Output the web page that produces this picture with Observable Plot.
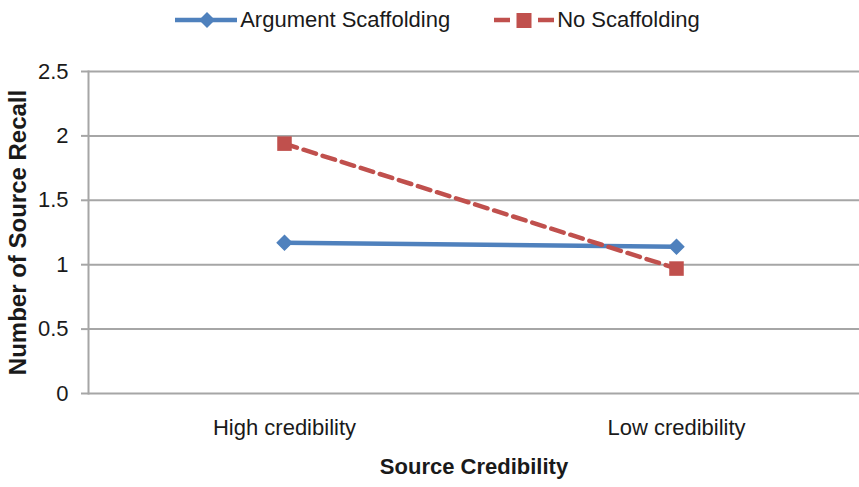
<!DOCTYPE html>
<html><head><meta charset="utf-8">
<script src="https://cdn.jsdelivr.net/npm/d3@7"></script>
<script src="https://cdn.jsdelivr.net/npm/@observablehq/plot@0.6"></script>
<style>
body{margin:0;background:#fff;}
#legend{height:40px;display:flex;align-items:center;justify-content:center;font-family:'Liberation Sans',Arial,sans-serif;font-size:22px;color:#1a1a1a;padding-left:16px;box-sizing:border-box;}
.item{display:flex;align-items:center;}
.item svg{margin-right:3px;}
.gap{width:44px;}
#chart g[aria-label="y-axis label"] text{font-weight:bold;font-size:24px;}
#chart g[aria-label="x-axis label"] text{font-weight:bold;font-size:22px;}
</style>
</head><body>
<div id="legend"></div>
<div id="chart"></div>
<script>
const categories = ["High credibility", "Low credibility"];
const seriesNames = ["Argument Scaffolding", "No Scaffolding"];
const argumentValues = [1.17, 1.14];
const noScaffoldingValues = [1.94, 0.97];
const yTicks = [0, 0.5, 1, 1.5, 2, 2.5];
const xTitle = "Source Credibility";
const yTitle = "Number of Source Recall";

const blue = "#4F81BD", red = "#C0504D", grid = "#a6a6a6";
const argRows = categories.map((c, i) => ({category: c, value: argumentValues[i], series: seriesNames[0]}));
const noRows = categories.map((c, i) => ({category: c, value: noScaffoldingValues[i], series: seriesNames[1]}));

// legend
const legend = document.getElementById("legend");
legend.innerHTML =
  `<div class="item"><svg width="62" height="20"><line x1="0" y1="10" x2="62" y2="10" stroke="${blue}" stroke-width="4.5"/><path d="M32,2L40,10L32,18L24,10Z" fill="${blue}"/></svg><span>${seriesNames[0]}</span></div>` +
  `<div class="gap"></div>` +
  `<div class="item"><svg width="60" height="20"><line x1="0" y1="10" x2="60" y2="10" stroke="${red}" stroke-width="4.5" stroke-dasharray="16,28"/><rect x="22.5" y="3" width="15" height="15" fill="${red}"/></svg><span>${seriesNames[1]}</span></div>`;

const chart = Plot.plot({
  width: 859,
  height: 447,
  marginTop: 31,
  marginBottom: 94,
  marginLeft: 88,
  marginRight: 0,
  style: {fontFamily: "'Liberation Sans',Arial,sans-serif", fontSize: "22px", color: "#1a1a1a", background: "#fff"},
  x: {type: "point", domain: categories, range: [88, 872], padding: 0.5},
  y: {domain: [0, 2.5]},
  marks: [
    Plot.ruleY(yTicks, {stroke: grid, strokeWidth: 2}),
    Plot.frame({anchor: "left", stroke: grid, strokeWidth: 2}),
    Plot.axisY(yTicks, {tickSize: 7, tickPadding: 13, stroke: grid, strokeWidth: 2, tickFormat: d => String(d), label: yTitle, labelAnchor: "center", labelOffset: 80, labelArrow: "none"}),
    Plot.axisX({tickSize: 0, tickPadding: 26, label: xTitle, labelAnchor: "center", labelOffset: 80, labelArrow: "none"}),
    Plot.line(argRows, {x: "category", y: "value", stroke: blue, strokeWidth: 4.5}),
    Plot.line(noRows, {x: "category", y: "value", stroke: red, strokeWidth: 4.5, strokeDasharray: "13,7"}),
    Plot.dot(argRows, {x: "category", y: "value", symbol: "diamond2", r: 6.5, fill: blue, stroke: blue}),
    Plot.dot(noRows, {x: "category", y: "value", symbol: "square", r: 8.2, fill: red})
  ]
});
document.getElementById("chart").appendChild(chart);
</script>
</body></html>
